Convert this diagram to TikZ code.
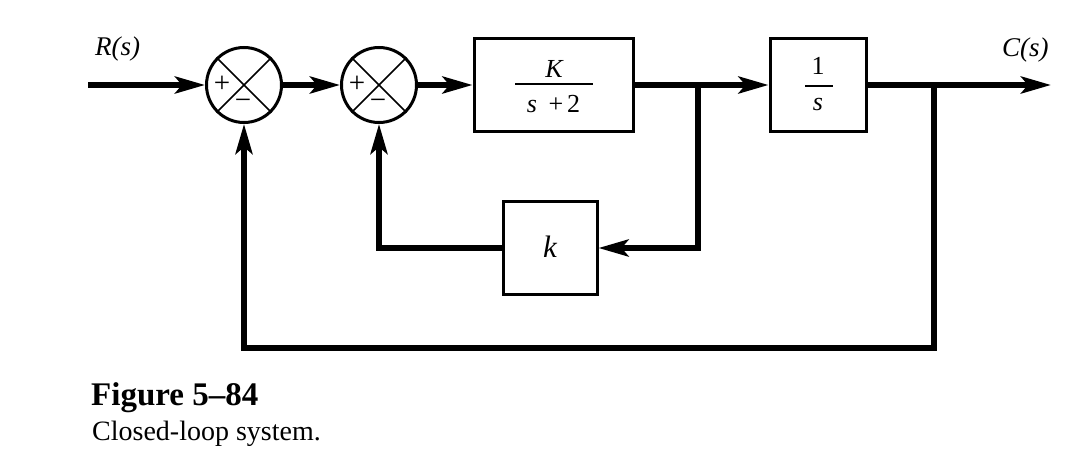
\documentclass[tikz,border=0pt]{standalone}
\usepackage{fontspec}
\setmainfont{Liberation Serif}
\usetikzlibrary{arrows.meta,calc}
\tikzset{
  sig/.style={line width=5.5pt, -{Stealth[length=30pt,width=17pt,inset=7pt]}},
  sumnode/.style={draw, circle, line width=3pt, minimum size=75pt, inner sep=0pt},
  blk/.style={draw, rectangle, line width=3pt, inner sep=0pt},
  crossline/.style={line width=1.6pt},
  barline/.style={line width=1.8pt},
  sgn/.style={inner sep=0pt, font=\fontsize{29}{32}\selectfont},
  frac/.style={inner sep=0pt, anchor=base, font=\fontsize{26}{30}\selectfont\itshape},
  lbl/.style={inner sep=0pt, anchor=base west, font=\fontsize{27}{30}\selectfont\itshape},
}
\begin{document}
\begin{tikzpicture}[x=1pt,y=-1pt]
\useasboundingbox (0,0) rectangle (1084,476);

% signal points
\coordinate (in) at (88,85);
\node[sumnode] (s1) at (244,85) {};
\node[sumnode] (s2) at (379,85) {};
\node[blk, minimum width=159pt, minimum height=93pt] (A) at (553.5,85) {};
\coordinate (br1) at (698,85);
\node[blk, minimum width=96pt, minimum height=93pt] (B) at (818,85) {};
\coordinate (br2) at (934,85);
\coordinate (out) at (1051,85);
\node[blk, minimum width=94pt, minimum height=93pt] (k) at (550,248) {};
\coordinate (bot) at (934,348);

% summing junction details
\foreach \s in {s1,s2}{
  \draw[crossline] (\s.north east) -- (\s.south west);
  \draw[crossline] (\s.north west) -- (\s.south east);
  \node[sgn] (\s p) at ($(\s.center)+(-22,-1)$) {+};
  \node[sgn] (\s m) at ($(\s.center)+(-1,19)$) {\char"2212};
}

% block contents
\node[frac] (An) at (554,78) {K};
\draw[barline] (515,84) -- (593,84);
\node[frac] (Ad) at (553.5,113) {s\hspace{0.45em}\upshape +\hspace{0.15em}2};
\node[frac] (Bn) at (818,75) {\upshape 1};
\draw[barline] (805,86) -- (833,86);
\node[frac] (Bd) at (818,111) {s};
\node[frac, font=\fontsize{31}{34}\selectfont\itshape] (kl) at (550,257) {k};

% labels
\node[lbl] (R) at (95,56) {R(s)};
\node[lbl] (C) at (1002,57) {C(s)};

% connectors
\draw[sig] (in) -- (s1.west);
\draw[sig] (s1.east) -- (s2.west);
\draw[sig] (s2.east) -- (A.west);
\draw[sig] (A.east) -- (B.west);
\draw[sig] (B.east) -- (out);
\draw[sig] (br1) |- (k.east);
\draw[sig] (k.west) -| (s2.south);
\draw[sig] (br2) -- (bot) -| (s1.south);

% caption
\node[inner sep=0pt, anchor=base west, font=\fontsize{33}{36}\selectfont\bfseries] (fig) at (91,405) {Figure 5–84};
\node[inner sep=0pt, anchor=base west, font=\fontsize{28}{32}\selectfont] (cap) at (92,440) {Closed-loop system.};
\end{tikzpicture}
\end{document}
